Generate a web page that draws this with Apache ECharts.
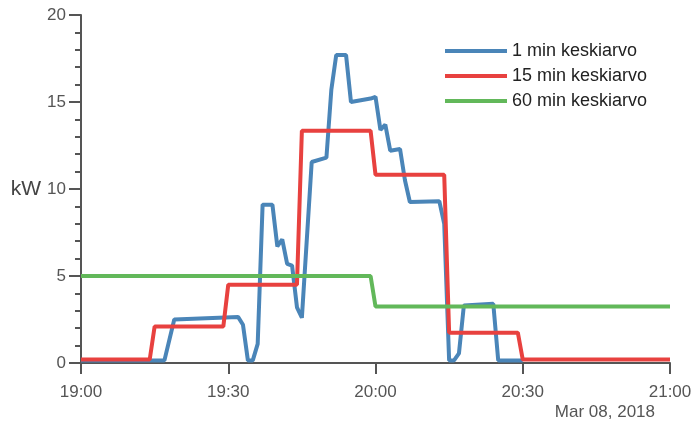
<!DOCTYPE html>
<html>
<head>
<meta charset="utf-8">
<script src="https://cdn.jsdelivr.net/npm/echarts@6/dist/echarts.min.js"></script>
<style>
html,body{margin:0;padding:0;background:#fff;}
#chart{width:692px;height:423px;}
</style>
</head>
<body>
<div id="chart"></div>
<script>
// minutes after 19:00
var seriesNames = ['1 min keskiarvo', '15 min keskiarvo', '60 min keskiarvo'];
var tickLabels = ['19:00', '19:30', '20:00', '20:30', '21:00'];
var dateLabel = 'Mar 08, 2018';

var blueMinutes = [0, 17, 19, 32, 33, 34, 35, 36, 37, 39, 40, 41, 42, 43, 44, 45, 47, 50, 51, 52, 54, 55, 59, 60, 61, 62, 63, 65, 66, 67, 73, 74, 75, 76, 77, 78, 84, 85, 90];
var blueValues  = [0.15, 0.15, 2.5, 2.65, 2.2, 0.15, 0.15, 1.1, 9.1, 9.1, 6.7, 7.1, 5.7, 5.6, 3.2, 2.6, 11.55, 11.8, 15.7, 17.7, 17.7, 15.0, 15.2, 15.3, 13.4, 13.7, 12.2, 12.3, 10.5, 9.25, 9.3, 8.0, 0.15, 0.15, 0.55, 3.3, 3.4, 0.15, 0.15];

var redMinutes = [0, 14, 15, 29, 30, 44, 45, 59, 60, 74, 75, 89, 90, 120];
var redValues  = [0.2, 0.2, 2.1, 2.1, 4.5, 4.5, 13.35, 13.35, 10.82, 10.82, 1.74, 1.74, 0.2, 0.2];

var greenMinutes = [0, 59, 60, 120];
var greenValues  = [5.0, 5.0, 3.25, 3.25];

function pairs(xs, ys) { return xs.map(function (x, i) { return [x, ys[i]]; }); }

var axisColor = '#555';
var chart = echarts.init(document.getElementById('chart'), null, {renderer: 'canvas'});
chart.setOption({
  animation: false,
  backgroundColor: '#fff',
  textStyle: {fontFamily: 'Liberation Sans, Arial, sans-serif'},
  grid: {left: 81, right: 22, top: 15, bottom: 60, containLabel: false, outerBoundsMode: 'none'},
  legend: {
    data: seriesNames,
    orient: 'vertical',
    left: 440,
    top: 37,
    icon: 'rect',
    itemWidth: 62,
    itemHeight: 4,
    itemGap: 7,
    textStyle: {fontSize: 18, color: '#222', fontFamily: 'Liberation Sans, Arial, sans-serif'}
  },
  xAxis: {
    type: 'value',
    min: 0, max: 120, interval: 30,
    axisLine: {show: true, lineStyle: {color: axisColor, width: 2}},
    axisTick: {show: true, length: 11, lineStyle: {color: axisColor, width: 2}},
    axisLabel: {
      margin: 21, fontSize: 17, color: '#555',
      formatter: function (v) { return tickLabels[Math.round(v / 30)]; }
    },
    splitLine: {show: false}
  },
  yAxis: {
    type: 'value',
    min: 0, max: 20, interval: 5,
    name: 'kW', nameLocation: 'middle', nameRotate: 0, nameGap: 39,
    nameTextStyle: {fontSize: 21, color: '#444', padding: [0, 0, 6, 0]},
    axisLine: {show: true, lineStyle: {color: axisColor, width: 2}},
    axisTick: {show: true, length: 12, lineStyle: {color: axisColor, width: 2}},
    minorTick: {show: true, splitNumber: 5, length: 6, lineStyle: {color: axisColor, width: 2}},
    axisLabel: {margin: 15, fontSize: 17, color: '#555'},
    splitLine: {show: false}
  },
  graphic: [{
    type: 'text', right: 37, top: 404,
    style: {text: dateLabel, fontSize: 17, fill: '#555', fontFamily: 'Liberation Sans, Arial, sans-serif'}
  }],
  series: [
    {name: seriesNames[0], type: 'line', data: pairs(blueMinutes, blueValues), showSymbol: false,
     color: '#4a85b8', lineStyle: {width: 4, color: '#4a85b8'}},
    {name: seriesNames[1], type: 'line', data: pairs(redMinutes, redValues), showSymbol: false,
     color: '#e8413f', lineStyle: {width: 4, color: '#e8413f'}},
    {name: seriesNames[2], type: 'line', data: pairs(greenMinutes, greenValues), showSymbol: false,
     color: '#62b85a', lineStyle: {width: 4, color: '#62b85a'}}
  ]
});
</script>
</body>
</html>
